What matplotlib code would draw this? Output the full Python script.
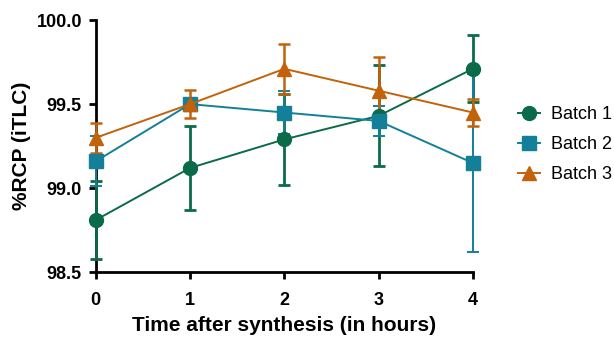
import matplotlib
matplotlib.use("Agg")
import matplotlib.pyplot as plt

plt.rcParams['font.family'] = ['Liberation Sans', 'DejaVu Sans']

hours = [0, 1, 2, 3, 4]
batch1 = [98.81, 99.12, 99.29, 99.43, 99.71]
batch1_err = [0.23, 0.25, 0.27, 0.30, 0.20]
batch2 = [99.16, 99.50, 99.45, 99.40, 99.15]
batch2_err = [0.15, 0.01, 0.13, 0.09, 0.53]
batch3 = [99.30, 99.50, 99.71, 99.58, 99.45]
batch3_err = [0.09, 0.085, 0.15, 0.20, 0.08]
labels = ['Batch 1', 'Batch 2', 'Batch 3']

colors = ['#0b6b48', '#137f98', '#c2620a']
markers = ['o', 's', '^']
elw = [2.0, 1.4, 1.8]

fig = plt.figure(figsize=(6.14, 3.41), dpi=100)
ax = fig.add_axes([0.156, 0.202, 0.614, 0.739])

series = [(batch1, batch1_err), (batch2, batch2_err), (batch3, batch3_err)]
handles = []
for (vals, errs), lab, c, m, w in zip(series, labels, colors, markers, elw):
    ax.errorbar(hours, vals, yerr=errs, color=c, fmt='none',
                elinewidth=w, capsize=4.5, capthick=w, clip_on=False, zorder=3)
    h, = ax.plot(hours, vals, color=c, marker=m, markersize=10,
                 linewidth=1.4, label=lab, clip_on=False, zorder=4)
    handles.append(h)

ax.set_xlim(0, 4)
ax.set_ylim(98.5, 100.0)
ax.set_xticks(hours)
ax.set_yticks([98.5, 99.0, 99.5, 100.0])
ax.set_yticklabels(['98.5', '99.0', '99.5', '100.0'])

for s in ['top', 'right']:
    ax.spines[s].set_visible(False)
for s in ['left', 'bottom']:
    ax.spines[s].set_linewidth(2)
ax.tick_params(width=2, length=5, labelsize=13, pad=5)
ax.tick_params(axis='x', pad=9)
for t in ax.get_xticklabels() + ax.get_yticklabels():
    t.set_fontweight('bold')

ax.set_xlabel('Time after synthesis (in hours)', fontsize=15, fontweight='bold', labelpad=5)
ax.set_ylabel('%RCP (iTLC)', fontsize=15, fontweight='bold', labelpad=4)

ax.legend(handles=handles, loc='center left', bbox_to_anchor=(1.078, 0.505), frameon=False,
          fontsize=13, handlelength=1.2, handletextpad=0.6, labelspacing=0.72)

fig.savefig('out.png', dpi=100)
